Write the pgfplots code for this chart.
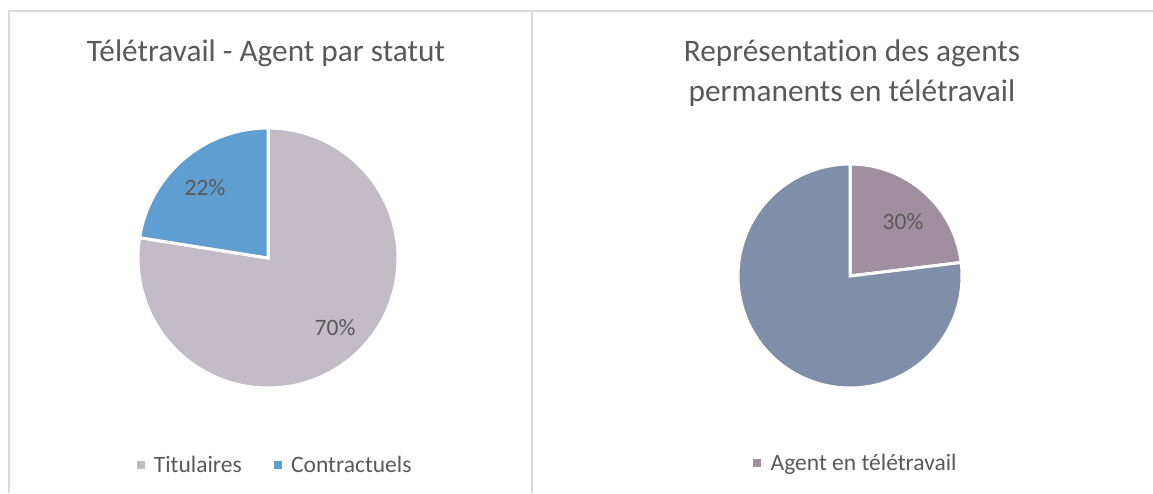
\documentclass[border=0pt]{standalone}
\usepackage{pgfplots}
\pgfplotsset{compat=1.18}
\usepackage{fontspec}
\setmainfont{Carlito}[Ligatures={NoCommon}]
\definecolor{titcol}{HTML}{C3BCC7}
\definecolor{concol}{HTML}{5F9ED1}
\definecolor{telecol}{HTML}{A0909F}
\definecolor{restcol}{HTML}{7F8FA9}
\definecolor{txt}{HTML}{595959}
\definecolor{framecol}{HTML}{D9D9D9}
% data (shares of each pie)
\def\Tit{77.5}
\def\Con{22.5}
\def\Tele{30}
\def\Rest{100}
\pgfplotsset{
  piestyle/.style={x=1pt, y=1pt, hide axis, clip=false, anchor=center,
    xmin=-135, xmax=135, ymin=-135, ymax=135,
    legend image code/.code={\fill[##1] (0pt,-3.5pt) rectangle (7pt,3.5pt);},
    legend style={draw=none, fill=none, text=txt, anchor=center,
      font=\fontsize{23.5}{28}\selectfont, inner sep=0pt,
      /tikz/every odd column/.append style={column sep=8pt},
      /tikz/every even column/.append style={column sep=30pt}},
  },
}
\begin{document}
\begin{tikzpicture}[x=1pt,y=1pt]
\useasboundingbox (0,0) rectangle (1153,-493);
\fill[white] (0,0) rectangle (1153,-493);
\draw[framecol, line width=2pt] (1153,-11) -- (9,-11) -- (9,-493);
\draw[framecol, line width=2pt] (531.5,-11) -- (531.5,-493);
\pgfmathsetmacro{\aTit}{360/(\Tit+\Con)*\Tit}
\pgfmathsetmacro{\aTele}{360/(\Tele+\Rest)*\Tele}
\begin{axis}[piestyle, at={(268pt,-258pt)}, legend columns=2,
  legend style={at={(rel axis cs:0.526,-0.267)}}]
\addlegendimage{titcol}\addlegendentry{Titulaires}
\addlegendimage{concol}\addlegendentry{Contractuels}
\fill[titcol, draw=white, line width=3pt, line join=miter] (axis cs:0,0) -- ++(90:130pt) arc[start angle=90, end angle={90-\aTit}, radius=130pt] -- cycle;
\fill[concol, draw=white, line width=3pt, line join=miter] (axis cs:0,0) -- ++({90-\aTit}:130pt) arc[start angle={90-\aTit}, end angle=-270, radius=130pt] -- cycle;
\node[anchor=base, text=txt, font=\fontsize{31.3}{40}\selectfont] at (axis cs:-2,196.3) {Télétravail - Agent par statut};
\node[text=txt, font=\fontsize{23.5}{28}\selectfont] at (axis cs:-63,70) {22\%};
\node[text=txt, font=\fontsize{23.5}{28}\selectfont] at (axis cs:67,-70) {70\%};
\end{axis}
\begin{axis}[piestyle, at={(850pt,-276pt)}, legend columns=1,
  legend style={at={(rel axis cs:0.522,-0.193)}}]
\addlegendimage{telecol}\addlegendentry{Agent en télétravail}
\fill[telecol, draw=white, line width=3pt, line join=miter] (axis cs:0,0) -- ++(90:112pt) arc[start angle=90, end angle={90-\aTele}, radius=112pt] -- cycle;
\fill[restcol, draw=white, line width=3pt, line join=miter] (axis cs:0,0) -- ++({90-\aTele}:112pt) arc[start angle={90-\aTele}, end angle=-270, radius=112pt] -- cycle;
\node[anchor=base, text=txt, font=\fontsize{31.3}{40}\selectfont] at (axis cs:2,214.3) {Représentation des agents};
\node[anchor=base, text=txt, font=\fontsize{31.3}{40}\selectfont] at (axis cs:2,174.3) {permanents en télétravail};
\node[text=txt, font=\fontsize{23.5}{28}\selectfont] at (axis cs:53,54) {30\%};
\end{axis}
\end{tikzpicture}
\end{document}
